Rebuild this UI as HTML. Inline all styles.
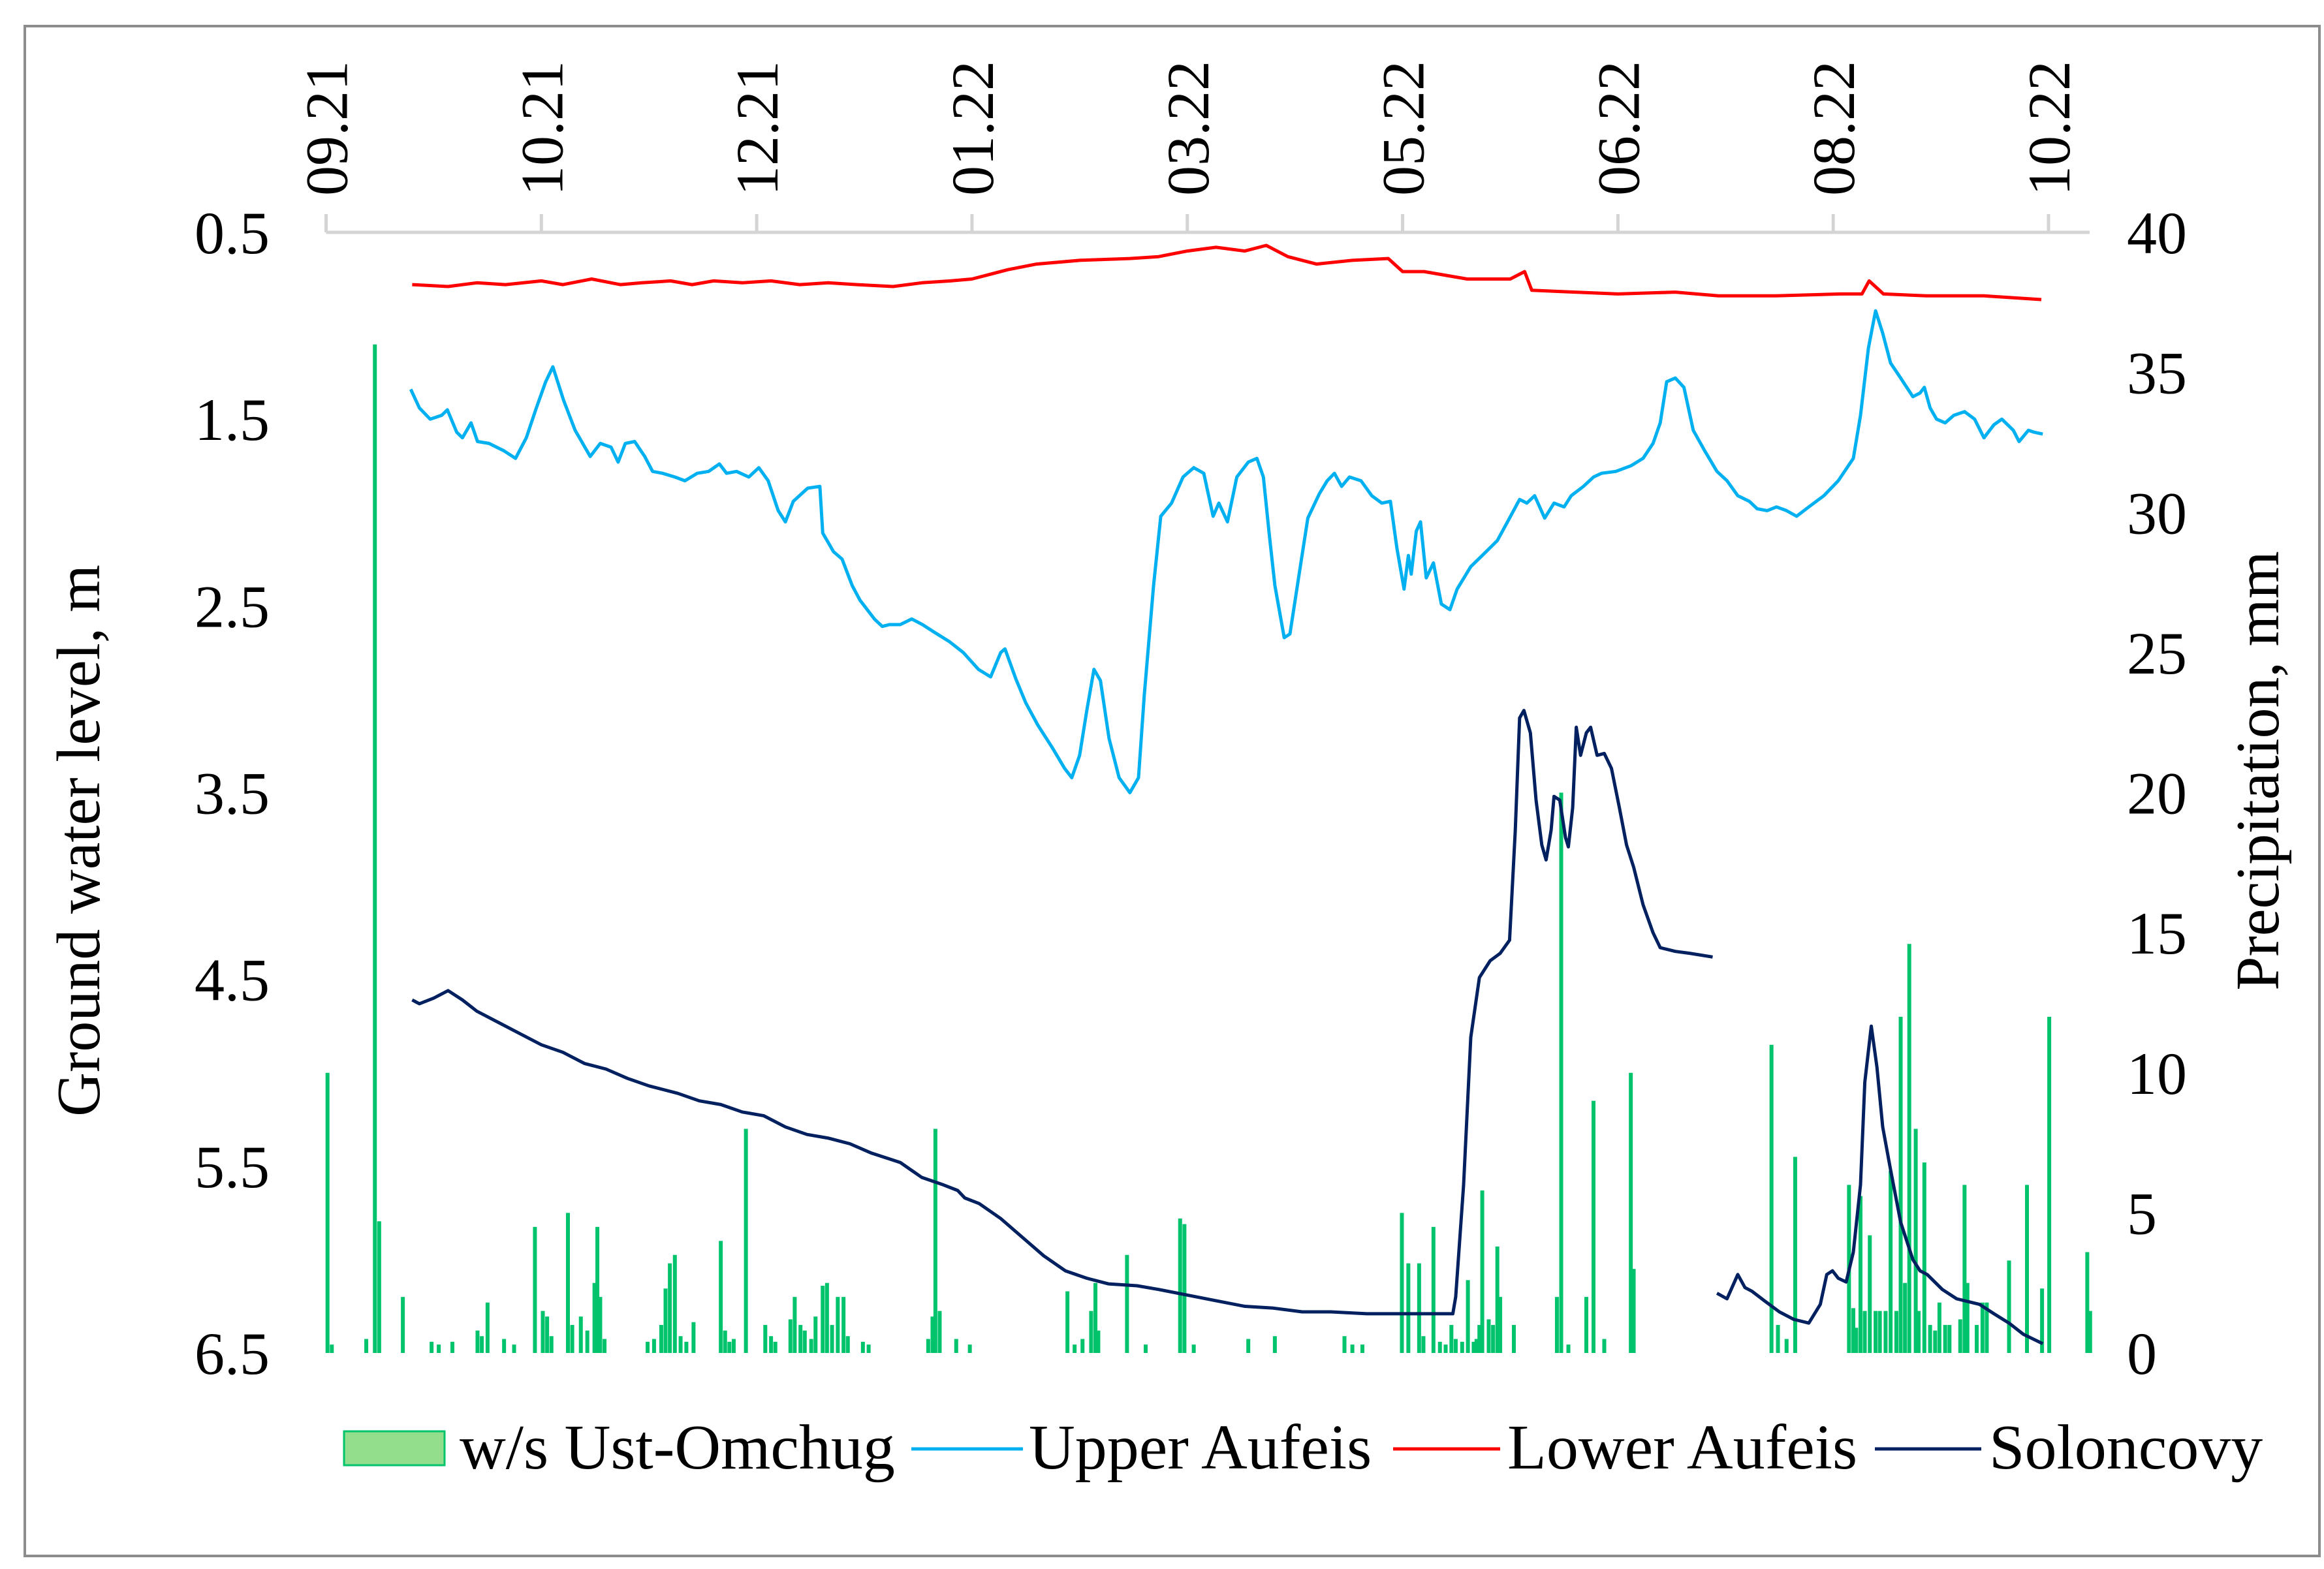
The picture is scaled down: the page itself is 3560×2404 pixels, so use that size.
<!DOCTYPE html>
<html><head><meta charset="utf-8"><style>
html,body{margin:0;padding:0;background:#fff;}
svg{display:block;font-family:"Liberation Serif",serif;}
</style></head><body>
<svg id="chart" width="3560" height="2404" viewBox="0 0 3560 2404" xmlns="http://www.w3.org/2000/svg">
<rect x="38" y="40" width="3515" height="2344" fill="#fff" stroke="#8c8c8c" stroke-width="4"/>
<g id="bars"></g>
<g id="lines"></g>
<g id="axes"></g>
<text transform="translate(152,1288) rotate(-90)" text-anchor="middle" font-size="94">Ground water level, m</text>
<text transform="translate(3490,1181) rotate(-90)" text-anchor="middle" font-size="94">Precipitation, mm</text>
<g>
 <g><rect x="527" y="2193" width="154" height="52" fill="#92de8c" stroke="#00c36b" stroke-width="3"/><text x="704" y="2250" font-size="98">w/s Ust-Omchug</text></g>
 <g><line x1="1396" y1="2220" x2="1567" y2="2220" stroke="#00b0f0" stroke-width="5"/><text x="1576" y="2250" font-size="98">Upper Aufeis</text></g>
 <g><line x1="2134" y1="2220" x2="2298" y2="2220" stroke="#ff0000" stroke-width="5"/><text x="2309" y="2250" font-size="98">Lower Aufeis</text></g>
 <g><line x1="2872" y1="2220" x2="3035" y2="2220" stroke="#002060" stroke-width="5"/><text x="3047" y="2250" font-size="98">Soloncovy</text></g>
</g>
</svg>
<script>
const xTickLabels = ["09.21","10.21","12.21","01.22","03.22","05.22","06.22","08.22","10.22"];
const leftTicks = [0.5,1.5,2.5,3.5,4.5,5.5,6.5];
const rightTicks = [0,5,10,15,20,25,30,35,40];
const upperDays = [11.8,13.0,14.5,16.1,16.9,18.2,19.0,20.2,21.1,22.7,24.8,26.4,27.9,29.3,30.6,31.6,33.1,34.7,36.8,38.2,39.7,40.7,41.7,43.0,44.4,45.5,46.9,48.6,50.0,51.7,53.3,54.8,55.8,57.2,58.9,60.3,61.6,63.0,64.0,65.1,67.1,68.8,69.2,70.7,71.9,73.3,74.4,76.4,77.5,78.5,80.0,81.6,83.1,84.7,86.8,88.8,90.9,92.6,94.0,94.6,96.1,97.5,99.2,101.2,102.9,103.9,105.0,106.0,107.0,107.9,109.1,110.5,112.0,113.2,114.0,115.3,116.3,117.8,119.4,120.9,122.3,123.6,124.4,125.6,126.9,128.5,129.7,130.6,131.4,132.2,133.5,134.3,135.5,136.8,138.4,139.5,140.5,141.5,142.6,144.2,145.7,147.1,148.3,149.2,150.2,150.8,151.2,151.9,152.5,153.3,154.3,155.4,156.6,157.6,159.5,161.1,163.2,164.9,166.3,167.3,168.4,169.8,171.1,172.5,173.5,175.2,176.6,177.7,179.7,181.8,183.5,184.9,185.9,186.8,188.0,189.2,190.5,192.1,193.8,195.2,196.7,198.3,199.4,200.8,202.1,203.5,204.9,206.6,208.7,210.7,212.8,213.8,214.9,215.9,216.9,218.0,219.4,221.1,222.1,222.7,223.5,224.4,225.6,226.8,228.3,229.7,231.0,232.4,233.5,235.1,235.9,237.2,238.0,239.2];
const upperLevel = [1.34,1.44,1.50,1.48,1.45,1.57,1.60,1.52,1.62,1.63,1.67,1.71,1.60,1.44,1.30,1.22,1.40,1.56,1.70,1.63,1.65,1.73,1.63,1.62,1.70,1.78,1.79,1.81,1.83,1.79,1.78,1.74,1.79,1.78,1.81,1.76,1.83,1.99,2.05,1.94,1.87,1.86,2.11,2.21,2.25,2.39,2.47,2.57,2.61,2.60,2.60,2.57,2.60,2.64,2.69,2.75,2.84,2.88,2.75,2.73,2.89,3.02,3.14,3.26,3.37,3.42,3.30,3.06,2.84,2.90,3.21,3.42,3.50,3.42,2.98,2.39,2.02,1.95,1.81,1.76,1.79,2.02,1.95,2.05,1.81,1.73,1.71,1.81,2.11,2.39,2.67,2.65,2.35,2.03,1.90,1.83,1.79,1.86,1.81,1.83,1.91,1.95,1.94,2.19,2.41,2.23,2.33,2.10,2.05,2.35,2.27,2.49,2.52,2.41,2.29,2.23,2.15,2.03,1.93,1.95,1.91,2.03,1.95,1.97,1.91,1.86,1.81,1.79,1.78,1.75,1.71,1.63,1.52,1.30,1.28,1.33,1.56,1.67,1.78,1.83,1.91,1.94,1.98,1.99,1.97,1.99,2.02,1.97,1.91,1.83,1.71,1.48,1.12,0.92,1.04,1.20,1.28,1.38,1.36,1.33,1.44,1.50,1.52,1.48,1.46,1.50,1.60,1.53,1.50,1.56,1.62,1.56,1.57,1.58];
const lowerDays = [12,17,21,25,30,33,37,41,44,48,51,54,58,62,66,70,74,79,83,87,90,95,99,105,112,116,120,124,128,131,134,138,143,148,150,153,159,165,167,168,174,180,188,194,202,211,214,215,217,223,231,239];
const lowerLevel = [0.78,0.79,0.77,0.78,0.76,0.78,0.75,0.78,0.77,0.76,0.78,0.76,0.77,0.76,0.78,0.77,0.78,0.79,0.77,0.76,0.75,0.70,0.67,0.65,0.64,0.63,0.60,0.58,0.60,0.57,0.63,0.67,0.65,0.64,0.71,0.71,0.75,0.75,0.71,0.81,0.82,0.83,0.82,0.84,0.84,0.83,0.83,0.76,0.83,0.84,0.84,0.86];
const solDays = [12,13,15,17,19,21,24,27,30,33,36,39,42,45,49,52,55,58,61,64,67,70,73,76,80,83,86,88,89,91,94,97,100,103,106,109,113,116,120,124,128,132,136,140,145,149,153,157,157.4,158.5,159.5,160.7,162.2,163.6,164.9,165.7,166.3,166.9,167.8,168.6,169.4,170.0,170.7,171.1,171.9,172.7,173.1,173.7,174.2,174.8,175.6,176.2,177.1,178.1,179.1,180.2,181.2,182.2,183.5,184.9,185.9,188,190,193.2,193.5,193.8,195.2,196.7,197.7,198.7,200.4,202.5,204.5,206.6,208.2,209.1,209.9,210.7,211.8,212.8,213.8,214.4,215.3,216.1,216.9,218,219.4,221.1,222.1,223.1,225.2,227.2,230.4,232.4,234.5,236.5,239.2];
const solLevel = [4.61,4.63,4.60,4.56,4.61,4.67,4.73,4.79,4.85,4.89,4.95,4.98,5.03,5.07,5.11,5.15,5.17,5.21,5.23,5.29,5.33,5.35,5.38,5.43,5.48,5.56,5.60,5.63,5.67,5.70,5.78,5.88,5.98,6.06,6.10,6.13,6.14,6.16,6.19,6.22,6.25,6.26,6.28,6.28,6.29,6.29,6.29,6.29,6.20,5.60,4.81,4.49,4.40,4.36,4.29,3.70,3.10,3.06,3.18,3.54,3.78,3.86,3.70,3.52,3.54,3.74,3.79,3.58,3.15,3.30,3.18,3.15,3.30,3.29,3.37,3.58,3.78,3.90,4.10,4.25,4.33,4.35,4.36,4.38,null,6.18,6.21,6.08,6.15,6.17,6.22,6.28,6.32,6.34,6.24,6.08,6.06,6.10,6.12,5.96,5.60,5.05,4.75,4.97,5.29,5.52,5.80,6.00,6.06,6.08,6.16,6.21,6.24,6.29,6.34,6.40,6.45];
const precipDays = [0.2,0.8,5.6,6.8,7.4,10.7,14.7,15.7,17.6,21.1,21.7,22.5,24.8,26.2,29.1,30.2,30.8,31.4,33.7,34.3,35.5,36.4,37.4,37.8,38.2,38.8,44.8,45.7,46.7,47.3,47.9,48.6,49.4,50.2,51.2,55.0,55.6,56.2,56.8,58.5,61.2,62.0,62.6,64.7,65.3,66.1,66.7,67.6,68.2,69.2,69.8,70.5,71.3,72.1,72.7,74.8,75.6,83.9,84.5,84.9,85.5,87.8,89.7,103.3,104.3,105.4,106.6,107.2,107.6,111.6,114.2,119.0,119.6,120.9,128.5,132.2,141.9,143.0,144.4,149.9,150.8,152.3,152.9,154.3,155.2,156.0,156.8,157.4,158.3,159.1,159.9,160.3,160.7,161.1,162.0,162.6,163.2,163.6,165.5,171.5,172.1,173.1,175.6,176.6,178.1,181.8,182.2,201.4,202.3,203.5,204.7,212.2,212.8,213.2,213.8,214.4,215.1,215.9,216.5,217.3,218.0,218.8,219.4,220.0,220.6,221.5,221.9,222.7,223.5,224.2,224.8,225.6,226.2,227.7,228.3,228.7,230.0,230.8,231.4,234.5,237.0,239.1,240.1,245.4,245.8];
const precipMm = [10,0.3,0.5,36,4.7,2,0.4,0.3,0.4,0.8,0.6,1.8,0.5,0.3,4.5,1.5,1.3,0.6,5,1,1.3,0.8,2.5,4.5,2,0.5,0.4,0.5,1,2.3,3.2,3.5,0.6,0.4,1.1,4,0.8,0.4,0.5,8,1,0.6,0.4,1.2,2,1,0.8,0.5,1.3,2.4,2.5,1,2,2,0.6,0.4,0.3,0.5,1.3,8,1.5,0.5,0.3,2.2,0.3,0.5,1.5,2.5,0.8,3.5,0.3,4.8,4.6,0.3,0.5,0.6,0.6,0.3,0.3,5,3.2,3.2,0.6,4.5,0.4,0.3,1,0.5,0.4,2.6,0.4,0.5,1,5.8,1.2,1,3.8,2,1,2,20,0.3,2,9,0.5,10,3,11,1,0.5,7,6,1.6,0.9,5.6,1.5,4.2,1.5,1.5,1.5,6.5,1.5,12,2.5,14.6,8,1.5,6.8,1,0.8,1.8,1,1,1.2,6,2.5,1,1.8,1.8,3.3,6,2.3,12,3.6,1.5];

const NS = "http://www.w3.org/2000/svg";
const X0 = 499.5, X1 = 3138, Y0 = 356, Y1 = 2073;
function xScale(d){ return X0 + d * (X1 - X0) / 240; }
function yLevel(v){ return Y0 + (v - 0.5) * (Y1 - Y0) / 6; }
function yPrecip(p){ return Y1 - p * (Y1 - Y0) / 40; }
function mk(tag, attrs, parent){ const e = document.createElementNS(NS, tag); for (const k in attrs) e.setAttribute(k, attrs[k]); parent.appendChild(e); return e; }

const bars = document.getElementById('bars');
precipDays.forEach((d, i) => {
  const y = yPrecip(precipMm[i]);
  const r = mk('rect', {x: xScale(d) - 3, y: y, width: 6, height: Y1 - y, fill: '#00c36b'}, bars);
  
  
});

const lines = document.getElementById('lines');
function drawLine(days, vals, color, name){
  let d = '', pen = false;
  days.forEach((t, i) => {
    const v = vals[i];
    if (v === null) { pen = false; return; }
    d += (pen ? 'L' : 'M') + xScale(t).toFixed(1) + ' ' + yLevel(v).toFixed(1) + ' ';
    pen = true;
  });
  const p = mk('path', {d: d, fill: 'none', stroke: color, 'stroke-width': 5, 'stroke-linejoin': 'round'}, lines);
  
  
}
drawLine(lowerDays, lowerLevel, '#ff0000', 'lower-aufeis-line');
drawLine(upperDays, upperLevel, '#00b0f0', 'upper-aufeis-line');
drawLine(solDays, solLevel, '#002060', 'soloncovy-line');

const axes = document.getElementById('axes');
const axisLine = mk('line', {x1: X0, y1: Y0, x2: 3201, y2: Y0, stroke: '#d4d4d4', 'stroke-width': 5}, axes);


xTickLabels.forEach((lab, i) => {
  const x = xScale(i * 30);
  const tk = mk('line', {x1: x, y1: Y0, x2: x, y2: Y0 - 28, stroke: '#d4d4d4', 'stroke-width': 5}, axes);
  
  
  const t = mk('text', {transform: 'translate(' + (x + 32) + ',300) rotate(-90)', 'font-size': 92, 'text-anchor': 'start'}, axes);
  t.textContent = lab;
  
  
});
leftTicks.forEach(v => {
  const t = mk('text', {x: 413, y: yLevel(v) + 32, 'font-size': 92, 'text-anchor': 'end'}, axes);
  t.textContent = v.toFixed(1);
  
  
});
rightTicks.forEach(v => {
  const t = mk('text', {x: 3258, y: yPrecip(v) + 32, 'font-size': 92, 'text-anchor': 'start'}, axes);
  t.textContent = String(v);
  
  
});
</script>
</body></html>
